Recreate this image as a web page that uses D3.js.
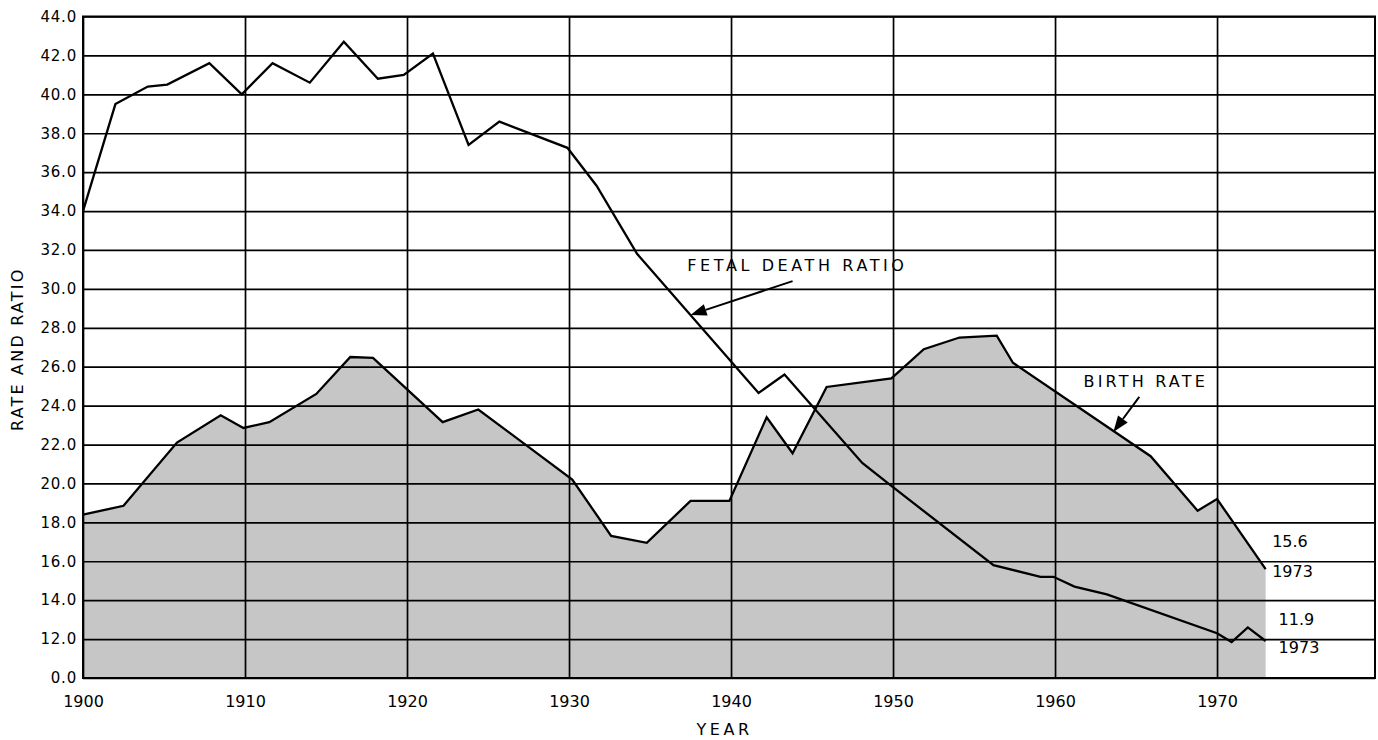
<!DOCTYPE html>
<html>
<head>
<meta charset="utf-8">
<script src="https://cdn.jsdelivr.net/npm/d3@7"></script>
<style>
  html, body { margin: 0; padding: 0; background: #fff; }
  svg { display: block; }
  text { font-family: "DejaVu Sans", sans-serif; fill: #000; }
</style>
</head>
<body>
<svg id="chart" width="1378" height="740"></svg>
<script>
// ---- data ----
const fetalYears  = [1900, 1902, 1904, 1905.2, 1907.8, 1909.8, 1911.7, 1914, 1916.1, 1918.2, 1919.8, 1921.6, 1923.8, 1925.7, 1929.9, 1931.7, 1934.2, 1941.7, 1943.3, 1948.1, 1949.7, 1956.2, 1959.1, 1959.9, 1961.2, 1963.2, 1970, 1970.9, 1971.9, 1973];
const fetalRatio  = [34.0, 39.5, 40.4, 40.5, 41.6, 40.0, 41.6, 40.6, 42.7, 40.8, 41.0, 42.1, 37.4, 38.6, 37.25, 35.3, 31.8, 24.65, 25.6, 21.05, 20.0, 15.8, 15.2, 15.2, 14.7, 14.3, 12.3, 11.85, 12.6, 11.9];
const birthYears  = [1900, 1902.5, 1905.8, 1908.5, 1909.9, 1911.5, 1914.4, 1916.5, 1917.9, 1922.2, 1924.4, 1930.2, 1932.6, 1934.8, 1937.5, 1939.9, 1942.2, 1943.8, 1945.9, 1949.9, 1951.9, 1954.1, 1956.4, 1957.4, 1965.9, 1968.8, 1970, 1973];
const birthRate   = [18.4, 18.85, 22.1, 23.5, 22.85, 23.15, 24.6, 26.5, 26.45, 23.15, 23.8, 20.2, 17.3, 16.95, 19.1, 19.1, 23.4, 21.55, 24.96, 25.4, 26.9, 27.5, 27.6, 26.2, 21.4, 18.6, 19.2, 15.6];
const xTickYears  = [1900, 1910, 1920, 1930, 1940, 1950, 1960, 1970];
const yTickValues = [10, 12, 14, 16, 18, 20, 22, 24, 26, 28, 30, 32, 34, 36, 38, 40, 42, 44];
const yTickLabels = ["0.0", "12.0", "14.0", "16.0", "18.0", "20.0", "22.0", "24.0", "26.0", "28.0", "30.0", "32.0", "34.0", "36.0", "38.0", "40.0", "42.0", "44.0"];
const endLabels   = ["15.6", "1973", "11.9", "1973"];

// ---- layout ----
const svg = d3.select("#chart");
const L = 83, R = 1375, T = 16.5, B = 678;
const x = d3.scaleLinear().domain([1900, 1979.75]).range([L, R]);
// broken axis: the bottom line (labelled 0.0) sits one step below 12.0
const y = d3.scaleLinear().domain([10, 44]).range([B, T]);

const fetal = fetalYears.map((d, i) => ({year: d, v: fetalRatio[i]}));
const birth = birthYears.map((d, i) => ({year: d, v: birthRate[i]}));

// shaded area under birth rate
svg.append("path")
  .datum(birth)
  .attr("d", d3.area().x(d => x(d.year)).y0(y(10)).y1(d => y(d.v)))
  .attr("fill", "#c6c6c6");

// horizontal grid + y labels
const yAxis = svg.append("g")
  .attr("transform", `translate(${L},0)`)
  .call(d3.axisLeft(y).tickValues(yTickValues).tickSize(-(R - L)).tickPadding(6)
        .tickFormat((d, i) => yTickLabels[i]));
yAxis.select(".domain").remove();
yAxis.selectAll(".tick line").attr("stroke", "#000").attr("stroke-width", 1.7);
yAxis.selectAll(".tick text")
  .style("font-family", "DejaVu Sans, sans-serif")
  .style("font-size", "15px").style("letter-spacing", "0.8px").attr("fill", "#000");

// vertical grid + x labels
const xAxis = svg.append("g")
  .attr("transform", `translate(0,${B})`)
  .call(d3.axisBottom(x).tickValues(xTickYears).tickSize(-(B - T)).tickPadding(18)
        .tickFormat(d3.format("d")));
xAxis.select(".domain").remove();
xAxis.selectAll(".tick line").attr("stroke", "#000").attr("stroke-width", 1.7);
xAxis.selectAll(".tick text")
  .style("font-family", "DejaVu Sans, sans-serif")
  .style("font-size", "16px").attr("fill", "#000");

// frame
svg.append("rect")
  .attr("x", L).attr("y", T).attr("width", R - L).attr("height", B - T)
  .attr("fill", "none").attr("stroke", "#000").attr("stroke-width", 2);

// data lines
const line = d3.line().x(d => x(d.year)).y(d => y(d.v));
svg.append("path").datum(birth).attr("d", line)
  .attr("fill", "none").attr("stroke", "#000").attr("stroke-width", 2.3).attr("stroke-linejoin", "miter");
svg.append("path").datum(fetal).attr("d", line)
  .attr("fill", "none").attr("stroke", "#000").attr("stroke-width", 2.3).attr("stroke-linejoin", "miter");

// axis titles
svg.append("text")
  .attr("transform", `translate(23,${(T + B) / 2 + 2}) rotate(-90)`)
  .attr("text-anchor", "middle")
  .style("font-size", "16px").style("letter-spacing", "2.2px")
  .text("RATE AND RATIO");
svg.append("text")
  .attr("x", x(1939.6)).attr("y", 735)
  .attr("text-anchor", "middle")
  .style("font-size", "16px").style("letter-spacing", "3.5px")
  .text("YEAR");

// annotations with arrows
function arrow(x1, y1, x2, y2) {
  const ang = Math.atan2(y2 - y1, x2 - x1);
  const len = 16, half = 6;
  const bx = x2 - len * Math.cos(ang), by = y2 - len * Math.sin(ang);
  svg.append("line").attr("x1", x1).attr("y1", y1).attr("x2", bx).attr("y2", by)
    .attr("stroke", "#000").attr("stroke-width", 2);
  const p = [
    [x2, y2],
    [bx + half * Math.sin(ang), by - half * Math.cos(ang)],
    [bx - half * Math.sin(ang), by + half * Math.cos(ang)]
  ];
  svg.append("polygon").attr("points", p.map(q => q.join(",")).join(" ")).attr("fill", "#000");
}
svg.append("text")
  .attr("x", x(1944.1)).attr("y", y(30.9))
  .attr("text-anchor", "middle")
  .style("font-size", "16px").style("letter-spacing", "3.6px")
  .text("FETAL DEATH RATIO");
arrow(x(1943.8), y(30.4), x(1937.5), y(28.66));

svg.append("text")
  .attr("x", x(1965.6)).attr("y", y(24.96))
  .attr("text-anchor", "middle")
  .style("font-size", "16px").style("letter-spacing", "3.2px")
  .text("BIRTH RATE");
arrow(x(1965.2), y(24.45), x(1963.6), y(22.65));

// end-value labels
const endPos = [[1973.4, 16.73], [1973.4, 15.19], [1973.8, 12.72], [1973.8, 11.29]];
endLabels.forEach((t, i) => {
  svg.append("text")
    .attr("x", x(endPos[i][0])).attr("y", y(endPos[i][1]))
    .style("font-size", "16px")
    .text(t);
});
</script>
</body>
</html>
